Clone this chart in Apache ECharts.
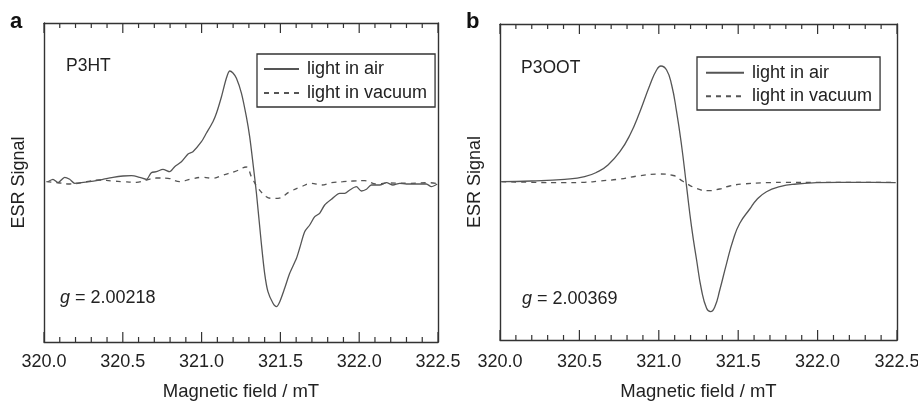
<!DOCTYPE html>
<html>
<head>
<meta charset="utf-8">
<script src="https://cdn.jsdelivr.net/npm/echarts@6/dist/echarts.min.js"></script>
<style>
html,body{margin:0;padding:0;background:#fff;}
#chart{width:918px;height:401px;}
</style>
</head>
<body>
<div id="chart"></div>
<script>
// ---- Data (magnetic field in mT, ESR signal in arbitrary units; baseline = 0) ----
const xTickLabels = ['320.0', '320.5', '321.0', '321.5', '322.0', '322.5'];
const majorTicks = [320.0, 320.5, 321.0, 321.5, 322.0, 322.5];
const minorTicks = [320.1, 320.2, 320.3, 320.4, 320.6, 320.7, 320.8, 320.9, 321.1, 321.2, 321.3, 321.4,
                    321.6, 321.7, 321.8, 321.9, 322.1, 322.2, 322.3, 322.4];
const seriesNames = ['light in air', 'light in vacuum'];

// Panel a: P3HT
const fieldAirA = [320.025,320.057,320.089,320.131,320.163,320.195,320.237,320.290,320.332,320.374,320.438,320.501,320.555,320.607,320.650,320.681,320.713,320.755,320.798,320.829,320.872,320.914,320.945,320.999,321.030,321.072,321.094,321.126,321.157,321.178,321.199,321.221,321.253,321.284,321.305,321.326,321.348,321.379,321.400,321.421,321.453,321.475,321.496,321.527,321.559,321.602,321.622,321.654,321.686,321.718,321.749,321.781,321.824,321.876,321.908,321.940,321.982,322.014,322.046,322.077,322.130,322.173,322.214,322.257,322.299,322.363,322.426,322.458,322.495];
const signalAirA = [-0.2,2.2,-1.2,4.2,2.2,-1.8,-1.2,-0.2,0.8,2.2,4.2,5.5,5.8,4.2,2.2,8.8,9.8,12.2,9.8,14.8,19.8,27.5,29.8,39.8,48.2,59.8,68.2,84.8,103.2,110.5,108.5,103.2,88.2,64.8,44.8,18.2,-11.8,-61.8,-91.8,-110.2,-121.8,-125.2,-120.2,-106.8,-91.8,-76.8,-66.8,-50.2,-43.5,-35.2,-31.8,-23.5,-17.8,-11.8,-11.8,-8.5,-5.2,-9.5,-7.8,-3.5,-3.5,-1.2,-3.5,-1.8,-2.5,-2.5,-2.5,-5.2,-2.5];
const fieldVacA = [320.015,320.100,320.163,320.269,320.353,320.438,320.501,320.586,320.650,320.713,320.787,320.861,320.925,321.009,321.072,321.136,321.210,321.284,321.316,321.358,321.411,321.445,321.485,321.559,321.633,321.697,321.760,321.824,321.897,321.961,322.035,322.109,322.194,322.320,322.447,322.495];
const signalVacA = [-0.2,-1.5,-2.5,-0.2,1.5,0.5,-0.2,-0.8,1.5,3.5,3.2,-0.2,2.2,4.2,3.2,6.5,9.8,14.5,4.8,-6.5,-15.2,-16.8,-16.8,-10.2,-5.2,-1.8,-3.5,-1.2,-0.2,0.5,0.8,-2.5,-1.5,-1.8,-1.2,-2.0];

// Panel b: P3OOT
const fieldAirB = [320.008,320.197,320.407,320.533,320.617,320.680,320.755,320.818,320.881,320.944,320.986,321.013,321.049,321.081,321.112,321.143,321.175,321.206,321.238,321.269,321.301,321.326,321.353,321.384,321.427,321.468,321.510,321.573,321.615,321.678,321.762,321.867,321.993,322.140,322.349,322.492];
const signalAirB = [0,0.7,2.4,5,10,16.7,30,46.7,70,96.7,111.7,115.7,111.7,96.7,70,36.7,-5,-45,-78.3,-108.3,-126.6,-130,-125,-108.3,-81.6,-58.3,-41.6,-27.3,-18.3,-10,-5,-2.3,-1,-0.6,-0.6,-1];
const fieldVacB = [320.008,320.197,320.407,320.533,320.629,320.755,320.881,321.007,321.091,321.154,321.238,321.311,321.384,321.447,321.531,321.678,321.825,321.993,322.182,322.475];
const signalVacB = [0,-0.6,-1,-0.6,0.7,2.7,6,7.7,6.2,0.2,-6.8,-9,-7.3,-4.3,-2.3,-1,-0.6,-0.6,-0.6,-0.6];

const zip = (xs, ys) => xs.map((x, i) => [x, ys[i]]);

const FONT = '"Liberation Sans", Arial, Helvetica, sans-serif';
const INK = '#333';
const CURVE = '#555';

const grids = [
  {left: 44, top: 23, width: 394, height: 319},
  {left: 500, top: 24, width: 397, height: 316}
];
const yRanges = [[-160.5, 158.5], [-158.3, 157.7]];
const labelMargins = [11, 13];
const nameGaps = [40, 42];

function xAxesFor(gi) {
  const base = {type: 'value', gridIndex: gi, min: 320, max: 322.5, interval: 0.5,
    splitLine: {show: false}, minorSplitLine: {show: false}, axisTick: {show: false}, minorTick: {show: false}};
  const line = {show: true, onZero: false, lineStyle: {color: INK, width: 1.4}};
  return [
    Object.assign({}, base, {
      position: 'bottom', axisLine: line,
      axisLabel: {show: true, margin: labelMargins[gi], fontSize: 18, color: '#222', fontFamily: FONT,
        formatter: v => xTickLabels[majorTicks.findIndex(t => Math.abs(t - v) < 1e-6)]},
      name: 'Magnetic field / mT', nameLocation: 'middle', nameGap: nameGaps[gi],
      nameTextStyle: {fontSize: 18.5, color: '#222', fontFamily: FONT}
    }),
    Object.assign({}, base, {position: 'top', axisLine: line, axisLabel: {show: false}})
  ];
}
function yAxesFor(gi) {
  const common = {
    type: 'value', gridIndex: gi, min: yRanges[gi][0], max: yRanges[gi][1],
    axisLine: {show: true, onZero: false, lineStyle: {color: INK, width: 1.4}},
    axisTick: {show: false}, axisLabel: {show: false}, splitLine: {show: false}
  };
  return [
    Object.assign({}, common, {position: 'left', name: 'ESR Signal', nameLocation: 'middle', nameGap: 16,
      nameTextStyle: {fontSize: 18, color: '#222', fontFamily: FONT}}),
    Object.assign({}, common, {position: 'right'})
  ];
}

function lineSeries(name, data, gi, dashed, smooth) {
  return {
    name: name, type: 'line', xAxisIndex: gi * 2, yAxisIndex: gi * 2,
    data: data, symbol: 'none', showSymbol: false, smooth: smooth,
    lineStyle: {color: CURVE, width: 1.3, type: dashed ? [5, 5] : 'solid'},
    itemStyle: {color: CURVE}, animation: false
  };
}

function legendFor(left, top, itemWidth, padding, rowH) {
  return {
    show: true, orient: 'vertical', left: left, top: top,
    data: seriesNames.map(n => ({name: n})),
    itemWidth: itemWidth, itemHeight: 1, itemGap: 0, padding: padding,
    itemStyle: {opacity: 0},
    borderColor: INK, borderWidth: 1.3, backgroundColor: '#fff',
    textStyle: {fontSize: 18, color: '#222', fontFamily: FONT, lineHeight: rowH, padding: [0, 0, 0, 3]},
    selectedMode: false
  };
}

function txt(id, x, y, text, size, extra) {
  return {type: 'text', id: id, x: x, y: y, silent: true, z: 100,
    style: Object.assign({text: text, fill: '#222', fontSize: size, fontFamily: FONT,
      align: 'left', verticalAlign: 'middle'}, extra || {})};
}

const texts = [
  txt('la', 10, 22, 'a', 22, {fontWeight: 'bold', fill: '#111'}),
  txt('lb', 466, 22, 'b', 22, {fontWeight: 'bold', fill: '#111'}),
  txt('na', 66, 66, 'P3HT', 17.5),
  txt('nb', 521, 68, 'P3OOT', 17.5),
  txt('ga', 60, 298, '{i|g} = 2.00218', 18, {rich: {i: {fontStyle: 'italic', fontSize: 18, fontFamily: FONT, fill: '#222'}}}),
  txt('gb', 522, 299, '{i|g} = 2.00369', 18, {rich: {i: {fontStyle: 'italic', fontSize: 18, fontFamily: FONT, fill: '#222'}}})
];

const option = {
  backgroundColor: '#fff',
  animation: false,
  grid: grids.map(g => Object.assign({containLabel: false, outerBoundsMode: 'none'}, g)),
  xAxis: [].concat(xAxesFor(0), xAxesFor(1)),
  yAxis: [].concat(yAxesFor(0), yAxesFor(1)),
  legend: [
    legendFor(257, 54, 35, [3, 8, 2, 6], 24),
    legendFor(697, 57, 38, [4, 8, 2, 8], 23.5)
  ],
  series: [
    lineSeries(seriesNames[0], zip(fieldAirA, signalAirA), 0, false, 0.25),
    lineSeries(seriesNames[1], zip(fieldVacA, signalVacA), 0, true, 0.4),
    lineSeries(seriesNames[0], zip(fieldAirB, signalAirB), 1, false, 0.5),
    lineSeries(seriesNames[1], zip(fieldVacB, signalVacB), 1, true, 0.5)
  ],
  graphic: texts
};

const chart = echarts.init(document.getElementById('chart'), null, {renderer: 'canvas'});
chart.setOption(option);

// Inward tick marks on the top and bottom frames, positioned through the chart's own x/y scales.
try {
  const tickEls = [];
  [0, 1].forEach(gi => {
    const yTop = chart.convertToPixel({yAxisIndex: gi * 2}, yRanges[gi][1]);
    const yBot = chart.convertToPixel({yAxisIndex: gi * 2}, yRanges[gi][0]);
    const add = (v, len, k) => {
      const x = chart.convertToPixel({xAxisIndex: gi * 2}, v);
      const st = {stroke: INK, lineWidth: 1.2};
      tickEls.push({type: 'line', id: 't' + gi + k + 'u', silent: true, z: 100,
        shape: {x1: x, y1: yTop, x2: x, y2: yTop + len}, style: st});
      tickEls.push({type: 'line', id: 't' + gi + k + 'd', silent: true, z: 100,
        shape: {x1: x, y1: yBot, x2: x, y2: yBot - len}, style: st});
    };
    majorTicks.forEach((v, i) => add(v, 10, 'M' + i));
    minorTicks.forEach((v, i) => add(v, 5, 'm' + i));
  });
  chart.setOption({graphic: texts.concat(tickEls)});
} catch (e) {
  console.error(e);
}
</script>
</body>
</html>
